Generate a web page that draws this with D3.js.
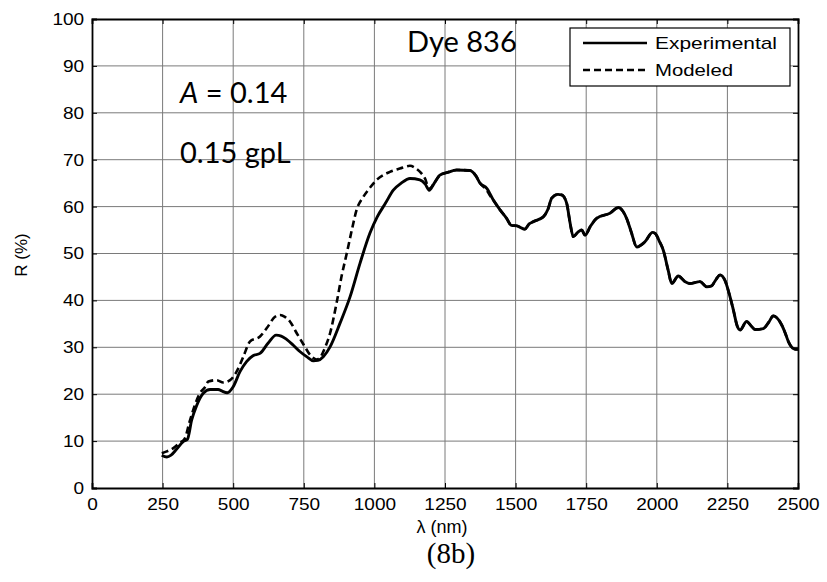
<!DOCTYPE html>
<html>
<head>
<meta charset="utf-8">
<script src="https://cdn.jsdelivr.net/npm/d3@7"></script>
<style>
  body { margin: 0; background: #fff; }
  svg { display: block; }
  .tick text { font-family: "Liberation Sans", Arial, sans-serif; }
</style>
</head>
<body>
<div class="chart"></div>
<script>
var svgWidth = 827;
var svgHeight = 582;

var margin = { top: 19, right: 29, bottom: 94, left: 92 };

var width = svgWidth - margin.left - margin.right;
var height = svgHeight - margin.top - margin.bottom;

// data
var xTicks = [0, 250, 500, 750, 1000, 1250, 1500, 1750, 2000, 2250, 2500];
var yTicks = [0, 10, 20, 30, 40, 50, 60, 70, 80, 90, 100];

var expWavelength = [247, 265, 280, 300, 323, 338, 353, 370, 394, 418, 447, 459, 479, 500, 524, 548, 570, 595, 624, 652,
  670, 689, 712, 736, 760, 784, 800, 819, 843, 878, 914, 949, 984, 1010, 1040, 1067, 1095, 1126, 1161, 1180,
  1194, 1210, 1232, 1260, 1291, 1338, 1360, 1374, 1398, 1421, 1445, 1468, 1485, 1504, 1533, 1548, 1563, 1598, 1615, 1628,
  1650, 1663, 1681, 1693, 1704, 1720, 1734, 1746, 1765, 1787, 1834, 1864, 1880, 1893, 1910, 1929, 1958, 1985, 1994, 2010,
  2023, 2040, 2053, 2076, 2100, 2117, 2153, 2177, 2194, 2210, 2224, 2241, 2256, 2271, 2285, 2295, 2318, 2335, 2348, 2377,
  2398, 2412, 2425, 2442, 2455, 2466, 2490, 2500];
var expR = [7.0, 6.6, 7.0, 8.3, 9.9, 10.4, 14.5, 17.5, 20.2, 21.0, 21.0, 20.7, 20.3, 21.6, 24.8, 27.0, 28.2, 28.7, 30.9, 32.6,
  32.4, 31.7, 30.5, 29.1, 28.0, 27.1, 27.2, 28.0, 30.1, 35.1, 40.8, 47.9, 54.3, 57.8, 60.8, 63.5, 65.0, 66.0, 65.7, 64.8,
  63.5, 64.8, 66.7, 67.3, 67.8, 67.7, 66.5, 65.0, 63.9, 61.4, 59.3, 57.5, 56.0, 55.9, 55.2, 56.3, 56.8, 57.8, 59.5, 61.8,
  62.6, 62.5, 60.7, 56.5, 53.6, 54.5, 55.0, 53.9, 55.8, 57.5, 58.6, 59.8, 59.0, 57.5, 54.5, 51.4, 52.5, 54.5, 54.3, 52.5,
  50.7, 46.5, 43.6, 45.2, 44.0, 43.6, 44.0, 42.9, 43.1, 44.5, 45.4, 44.3, 41.5, 38.0, 34.5, 33.7, 35.5, 34.5, 33.8, 34.0,
  35.5, 36.7, 36.3, 34.8, 33.0, 31.2, 29.6, 29.6];

var modWavelength = [247, 265, 288, 310, 329, 345, 365, 382, 400, 412, 441, 465, 489, 512, 536, 559, 595, 619, 648, 666,
  683, 701, 725, 750, 772, 796, 810, 822, 843, 866, 885, 902, 920, 937, 960, 984, 1010, 1055, 1090, 1126,
  1150, 1165, 1179, 1194, 1210, 1232, 1260, 1291, 1338, 1360, 1374, 1398, 1410, 1421, 1445, 1468, 1485, 1504, 1533, 1548,
  1563, 1598, 1615, 1628, 1650, 1663, 1681, 1693, 1704, 1720, 1734, 1746, 1765, 1787, 1834, 1864, 1880, 1893, 1910, 1929,
  1958, 1985, 1994, 2010, 2023, 2040, 2053, 2076, 2100, 2117, 2153, 2177, 2194, 2210, 2224, 2241, 2256, 2271, 2285, 2295,
  2318, 2335, 2348, 2377, 2398, 2412, 2425, 2442, 2455, 2466, 2490, 2500];
var modR = [7.4, 7.8, 8.5, 9.6, 10.6, 14.0, 17.8, 20.2, 21.5, 22.7, 23.0, 22.5, 23.0, 24.8, 28.0, 31.2, 32.3, 34.1, 36.5, 36.9,
  36.5, 35.5, 33.0, 30.5, 28.4, 27.4, 28.0, 29.5, 33.0, 39.4, 45.5, 50.0, 55.0, 59.3, 62.0, 64.0, 65.8, 67.4, 68.1, 68.7,
  68.0, 67.2, 66.0, 63.8, 64.8, 66.7, 67.3, 67.8, 67.7, 66.5, 65.0, 63.5, 62.3, 61.4, 59.3, 57.5, 56.0, 55.9, 55.2, 56.3,
  56.8, 57.8, 59.5, 61.8, 62.6, 62.5, 60.7, 56.5, 53.6, 54.5, 55.0, 53.9, 55.8, 57.5, 58.6, 59.8, 59.0, 57.5, 54.5, 51.4,
  52.5, 54.5, 54.3, 52.5, 50.7, 46.5, 43.6, 45.2, 44.0, 43.6, 44.0, 42.9, 43.1, 44.5, 45.4, 44.3, 41.5, 38.0, 34.5, 33.7,
  35.5, 34.5, 33.8, 34.0, 35.5, 36.7, 36.3, 34.8, 33.0, 31.2, 29.6, 29.6];

var seriesNames = ["Experimental", "Modeled"];

var svg = d3.select(".chart")
  .append("svg")
  .attr("width", svgWidth)
  .attr("height", svgHeight);

var chartGroup = svg.append("g")
  .attr("transform", `translate(${margin.left}, ${margin.top})`);

var xScale = d3.scaleLinear().domain([0, 2500]).range([0, width]);
var yScale = d3.scaleLinear().domain([0, 100]).range([height, 0]);

// grid lines
chartGroup.append("g")
  .selectAll("line")
  .data(xTicks.slice(1, -1))
  .enter()
  .append("line")
  .attr("x1", d => xScale(d)).attr("x2", d => xScale(d))
  .attr("y1", 0).attr("y2", height)
  .attr("stroke", "#7a7a7a").attr("stroke-width", 1);

chartGroup.append("g")
  .selectAll("line")
  .data(yTicks.slice(1, -1))
  .enter()
  .append("line")
  .attr("x1", 0).attr("x2", width)
  .attr("y1", d => yScale(d)).attr("y2", d => yScale(d))
  .attr("stroke", "#7a7a7a").attr("stroke-width", 1);

// axes, ticks pointing inward like a matlab box
var fmt = d3.format("d");
var bottomAxis = d3.axisBottom(xScale).tickValues(xTicks).tickFormat(fmt).tickSize(-5).tickPadding(10);
var leftAxis = d3.axisLeft(yScale).tickValues(yTicks).tickFormat(fmt).tickSize(-5).tickPadding(7);
var topAxis = d3.axisTop(xScale).tickValues(xTicks).tickSize(-5).tickFormat("");
var rightAxis = d3.axisRight(yScale).tickValues(yTicks).tickSize(-5).tickFormat("");

function styleAxis(g) {
  g.select(".domain").attr("stroke", "#000").attr("stroke-width", 1.8);
  g.selectAll(".tick line").attr("stroke", "#000").attr("stroke-width", 1);
  g.selectAll(".tick text").attr("fill", "#000").attr("font-size", "17px")
    .attr("transform", "scale(1.12,1)");
}

chartGroup.append("g")
  .attr("transform", `translate(0, ${height})`)
  .call(bottomAxis)
  .call(styleAxis);

chartGroup.append("g")
  .call(leftAxis)
  .call(styleAxis);

chartGroup.append("g")
  .call(topAxis)
  .call(styleAxis);

chartGroup.append("g")
  .attr("transform", `translate(${width}, 0)`)
  .call(rightAxis)
  .call(styleAxis);

// curves
var expData = expWavelength.map((w, i) => ({ x: w, y: expR[i] }));
var modData = modWavelength.map((w, i) => ({ x: w, y: modR[i] }));

var line = d3.line()
  .x(d => xScale(d.x))
  .y(d => yScale(d.y))
  .curve(d3.curveMonotoneX);

chartGroup.append("path")
  .datum(modData)
  .attr("d", line)
  .attr("fill", "none")
  .attr("stroke", "#000")
  .attr("stroke-width", 2.6)
  .attr("stroke-dasharray", "7,4");

chartGroup.append("path")
  .datum(expData)
  .attr("d", line)
  .attr("fill", "none")
  .attr("stroke", "#000")
  .attr("stroke-width", 2.9);

// legend
var legend = svg.append("g").attr("transform", "translate(570, 28)");
legend.append("rect")
  .attr("width", 220).attr("height", 58)
  .attr("fill", "#fff").attr("stroke", "#000").attr("stroke-width", 1.2);

var legendWidths = [122, 78];
seriesNames.forEach(function(name, i) {
  var yy = 15 + i * 27;
  legend.append("line")
    .attr("x1", 13).attr("x2", 77)
    .attr("y1", yy).attr("y2", yy)
    .attr("stroke", "#000").attr("stroke-width", 2.4)
    .attr("stroke-dasharray", i === 0 ? null : "7,4");
  legend.append("text")
    .attr("x", 85).attr("y", yy + 6)
    .attr("font-family", "Liberation Sans, Arial, sans-serif")
    .attr("font-size", "17px")
    .attr("textLength", legendWidths[i])
    .attr("lengthAdjust", "spacingAndGlyphs")
    .text(name);
});

// annotations
var note = svg.append("g")
  .attr("font-family", "Lato, 'Open Sans', sans-serif")
  .attr("font-size", "29px")
  .attr("fill", "#000");

var aText = note.append("text").attr("x", 180).attr("y", 103);
aText.append("tspan").attr("font-style", "italic").text("A");
aText.append("tspan").text(" = 0.14");

note.append("text").attr("x", 180).attr("y", 163).text("0.15 gpL");
note.append("text").attr("x", 407).attr("y", 52).text("Dye 836");

// axis titles
svg.append("text")
  .attr("transform", "translate(27, 255) rotate(-90)")
  .attr("text-anchor", "middle")
  .attr("font-family", "Liberation Sans, Arial, sans-serif")
  .attr("font-size", "17px")
  .text("R (%)");

svg.append("text")
  .attr("x", 442).attr("y", 533)
  .attr("text-anchor", "middle")
  .attr("font-family", "Liberation Sans, Arial, sans-serif")
  .attr("font-size", "18px")
  .text("λ (nm)");

svg.append("text")
  .attr("x", 451).attr("y", 563)
  .attr("text-anchor", "middle")
  .attr("font-family", "Liberation Serif, 'Times New Roman', serif")
  .attr("font-size", "29px")
  .text("(8b)");
</script>
</body>
</html>
